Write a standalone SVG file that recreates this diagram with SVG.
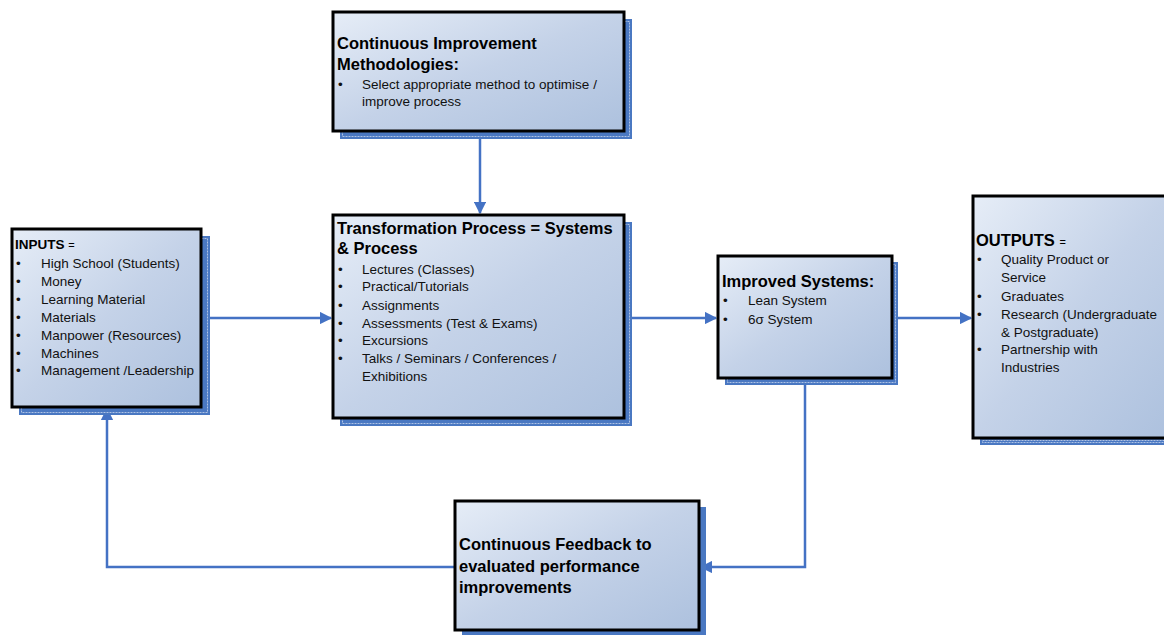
<svg xmlns="http://www.w3.org/2000/svg" width="1164" height="635" viewBox="0 0 1164 635">
<defs>
<linearGradient id="g" x1="0" y1="0" x2="1" y2="1">
<stop offset="0" stop-color="#e6edf7"/>
<stop offset="0.5" stop-color="#c4d2e8"/>
<stop offset="1" stop-color="#adc1de"/>
</linearGradient>
<marker id="ah" viewBox="0 0 10 10" refX="9" refY="5" markerWidth="5" markerHeight="5" orient="auto" markerUnits="strokeWidth">
<path d="M0,0 L10,5 L0,10 z" fill="#4472c4"/>
</marker>
</defs>
<style>
.sh{fill:#4a78c2}
.shl{fill:none;stroke:#c9d6ec;stroke-width:0.8;stroke-dasharray:2 1}
.bx{fill:url(#g);stroke:#000;stroke-width:3}
.t{font-family:"Liberation Sans",Arial,sans-serif;font-size:13.5px;fill:#111}
.b{font-family:"Liberation Sans",Arial,sans-serif;font-size:16.5px;font-weight:bold;fill:#000}
.bs{font-family:"Liberation Sans",Arial,sans-serif;font-size:14px;font-weight:bold;fill:#000}
.c{fill:none;stroke:#4472c4;stroke-width:2.5}
</style>
<rect width="1164" height="635" fill="#fff"/>

<g id="connectors">
<path class="c" d="M201,318 H331" marker-end="url(#ah)"/>
<path class="c" d="M480,133 V213" marker-end="url(#ah)"/>
<path class="c" d="M624,318 H716" marker-end="url(#ah)"/>
<path class="c" d="M892,318 H971" marker-end="url(#ah)"/>
<path class="c" d="M805,378 V567 H701" marker-end="url(#ah)"/>
<path class="c" d="M455,567 H107 V409" marker-end="url(#ah)"/>
</g>

<g id="improvement">
<rect class="sh" x="340" y="19" width="292" height="120"/>
<rect class="shl" x="342.5" y="21.5" width="287" height="115"/>
<rect class="bx" x="333" y="12" width="291" height="119"/>
<text class="b" x="337" y="49">Continuous Improvement</text>
<text class="b" x="337" y="70">Methodologies:</text>
<text class="t" x="338" y="89">•</text>
<text class="t" x="362" y="89">Select appropriate method to optimise /</text>
<text class="t" x="362" y="106">improve process</text>
</g>

<g id="transformation">
<rect class="sh" x="340" y="222" width="292" height="204"/>
<rect class="shl" x="342.5" y="224.5" width="287" height="199"/>
<rect class="bx" x="333" y="215" width="291" height="203"/>
<text class="b" x="337" y="234">Transformation Process = Systems</text>
<text class="b" x="337" y="254">&amp; Process</text>
<text class="t" x="338" y="274">•</text><text class="t" x="362" y="274">Lectures (Classes)</text>
<text class="t" x="338" y="291">•</text><text class="t" x="362" y="291">Practical/Tutorials</text>
<text class="t" x="338" y="310">•</text><text class="t" x="362" y="310">Assignments</text>
<text class="t" x="338" y="328">•</text><text class="t" x="362" y="328">Assessments (Test &amp; Exams)</text>
<text class="t" x="338" y="345">•</text><text class="t" x="362" y="345">Excursions</text>
<text class="t" x="338" y="363">•</text><text class="t" x="362" y="363">Talks / Seminars / Conferences /</text>
<text class="t" x="362" y="381">Exhibitions</text>
</g>

<g id="inputs">
<rect class="sh" x="19" y="236" width="191" height="179"/>
<rect class="shl" x="21.5" y="238.5" width="186" height="174"/>
<rect class="bx" x="12" y="229" width="189" height="178"/>
<text class="bs" x="15" y="249" style="font-size:13.5px">INPUTS <tspan style="font-weight:normal;font-size:11px">=</tspan></text>
<text class="t" x="16" y="268">•</text><text class="t" x="41" y="268">High School (Students)</text>
<text class="t" x="16" y="286">•</text><text class="t" x="41" y="286">Money</text>
<text class="t" x="16" y="304">•</text><text class="t" x="41" y="304">Learning Material</text>
<text class="t" x="16" y="322">•</text><text class="t" x="41" y="322">Materials</text>
<text class="t" x="16" y="340">•</text><text class="t" x="41" y="340">Manpower (Resources)</text>
<text class="t" x="16" y="358">•</text><text class="t" x="41" y="358">Machines</text>
<text class="t" x="16" y="375">•</text><text class="t" x="41" y="375">Management /Leadership</text>
</g>

<g id="improved">
<rect class="sh" x="725" y="262" width="173" height="123"/>
<rect class="shl" x="727.5" y="264.5" width="168" height="118"/>
<rect class="bx" x="718" y="256" width="174" height="122"/>
<text class="b" x="722" y="287">Improved Systems:</text>
<text class="t" x="723" y="305">•</text><text class="t" x="748" y="305">Lean System</text>
<text class="t" x="723" y="324">•</text><text class="t" x="748" y="324">6σ System</text>
</g>

<g id="outputs">
<rect class="sh" x="980" y="203" width="190" height="242"/>
<rect class="shl" x="982.5" y="440.5" width="190" height="2"/>
<rect class="bx" x="973" y="196" width="195" height="242"/>
<text class="b" x="976" y="246">OUTPUTS <tspan style="font-weight:normal;font-size:11px">=</tspan></text>
<text class="t" x="977" y="264">•</text><text class="t" x="1001" y="264">Quality Product or</text>
<text class="t" x="1001" y="282">Service</text>
<text class="t" x="977" y="301">•</text><text class="t" x="1001" y="301">Graduates</text>
<text class="t" x="977" y="319">•</text><text class="t" x="1001" y="319">Research (Undergraduate</text>
<text class="t" x="1001" y="337">&amp; Postgraduate)</text>
<text class="t" x="977" y="354">•</text><text class="t" x="1001" y="354">Partnership with</text>
<text class="t" x="1001" y="372">Industries</text>
</g>

<g id="feedback">
<rect class="sh" x="462" y="507" width="244" height="128"/>
<rect class="bx" x="455" y="501" width="244" height="129"/>
<text class="b" x="459" y="550">Continuous Feedback to</text>
<text class="b" x="459" y="572">evaluated performance</text>
<text class="b" x="459" y="593">improvements</text>
</g>
</svg>
